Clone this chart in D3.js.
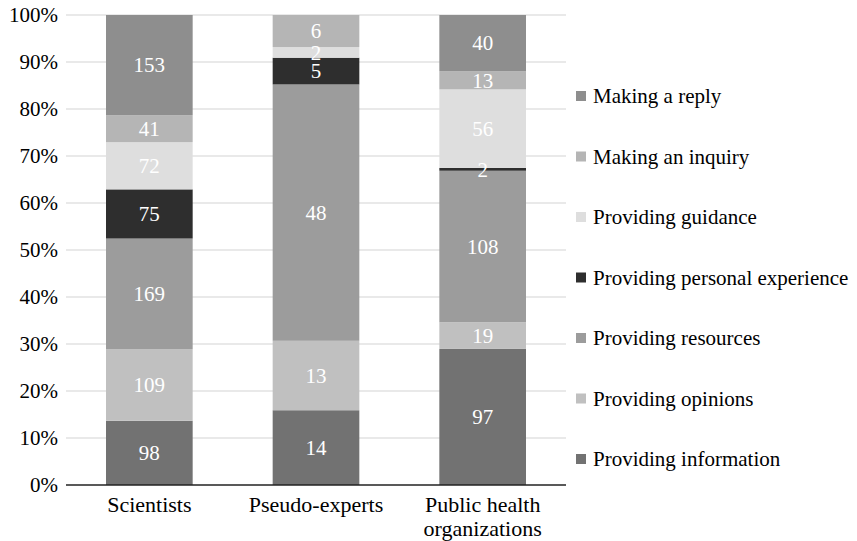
<!DOCTYPE html>
<html><head><meta charset="utf-8">
<script src="https://cdn.jsdelivr.net/npm/d3@7"></script>
<style>body{margin:0;background:#fff}svg{display:block}</style>
</head><body>
<script>
const categories = ["Scientists", "Pseudo-experts", "Public health|organizations"];
const seriesNames = ["Providing information","Providing opinions","Providing resources","Providing personal experience","Providing guidance","Making an inquiry","Making a reply"];
const providingInformation = [98, 14, 97];
const providingOpinions = [109, 13, 19];
const providingResources = [169, 48, 108];
const providingPersonalExperience = [75, 5, 2];
const providingGuidance = [72, 2, 56];
const makingAnInquiry = [41, 6, 13];
const makingAReply = [153, 0, 40];
const yTicks = [0,0.1,0.2,0.3,0.4,0.5,0.6,0.7,0.8,0.9,1];
const colors = ["#727272","#c0c0c0","#9c9c9c","#2e2e2e","#dedede","#b5b5b5","#8e8e8e"];

const FONT = "'Liberation Serif', 'Times New Roman', Times, 'DejaVu Serif', serif";
const series = [providingInformation, providingOpinions, providingResources, providingPersonalExperience, providingGuidance, makingAnInquiry, makingAReply];
const W = 857, H = 541;
const svg = d3.select("body").append("svg").attr("width", W).attr("height", H).attr("font-family", FONT);
const m = {left: 66, right: 291, top: 15, bottom: 56};
const x = d3.scaleBand().domain(categories).range([m.left, W - m.right]).paddingInner(0.48).paddingOuter(0.24);
const y = d3.scaleLinear().domain([0, 1]).range([H - m.bottom, m.top]);

// grid
svg.append("g").selectAll("line").data(yTicks.slice(1)).join("line")
  .attr("x1", m.left).attr("x2", W - m.right)
  .attr("y1", d => y(d)).attr("y2", d => y(d))
  .attr("stroke", "#e2e2e2").attr("stroke-width", 1.5);

// y axis labels
const yAxis = d3.axisLeft(y).tickValues(yTicks).tickFormat(d3.format(".0%")).tickSize(0).tickPadding(8);
const gy = svg.append("g").attr("transform", `translate(${m.left},0)`).call(yAxis);
gy.attr("font-family", FONT).attr("font-size", 21);
gy.select(".domain").remove();
gy.selectAll("text").attr("font-size", 21).attr("fill", "#000").attr("font-family", FONT);

// stacks
const table = categories.map((c, i) => {
  const o = {cat: c};
  seriesNames.forEach((s, j) => o[s] = series[j][i]);
  o.total = d3.sum(series, a => a[i]);
  return o;
});
const stack = d3.stack().keys(seriesNames).value((d, k) => d[k] / d.total);
const stacked = stack(table);

const layers = svg.append("g").selectAll("g").data(stacked).join("g").attr("fill", (d, i) => colors[i]);
layers.selectAll("rect").data(d => d).join("rect")
  .attr("x", d => x(d.data.cat)).attr("width", x.bandwidth())
  .attr("y", d => y(d[1])).attr("height", d => y(d[0]) - y(d[1]));

const labels = svg.append("g");
stacked.forEach((layer, i) => {
  layer.forEach(d => {
    const v = d.data[layer.key];
    if (!v) return;
    labels.append("text")
      .attr("x", x(d.data.cat) + x.bandwidth() / 2)
      .attr("y", y((d[0] + d[1]) / 2))
      .attr("dy", "0.35em")
      .attr("text-anchor", "middle").attr("font-family", FONT)
      .attr("font-size", 21).attr("fill", "#fff").text(v);
  });
});

// x axis baseline
svg.append("line").attr("x1", m.left).attr("x2", W - m.right)
  .attr("y1", y(0)).attr("y2", y(0)).attr("stroke", "#222").attr("stroke-width", 1.3);

// x labels
const xl = svg.append("g");
categories.forEach(c => {
  const lines = c.split("|");
  lines.forEach((t, k) => {
    xl.append("text").attr("x", x(c) + x.bandwidth() / 2).attr("y", 504 + k * 24)
      .attr("dy", "0.35em").attr("text-anchor", "middle").attr("font-family", FONT)
      .attr("font-size", 22).attr("fill", "#000").text(t);
  });
});

// legend
const lg = svg.append("g");
const legendOrder = seriesNames.map((s, i) => i).reverse();
legendOrder.forEach((idx, k) => {
  const cy = 96 + k * 60.5;
  lg.append("rect").attr("x", 576).attr("y", cy - 5).attr("width", 10).attr("height", 10).attr("fill", colors[idx]);
  lg.append("text").attr("x", 593).attr("y", cy).attr("dy", "0.35em").attr("font-family", FONT)
    .attr("font-size", 21).attr("fill", "#000").text(seriesNames[idx]);
});
</script>
</body></html>
